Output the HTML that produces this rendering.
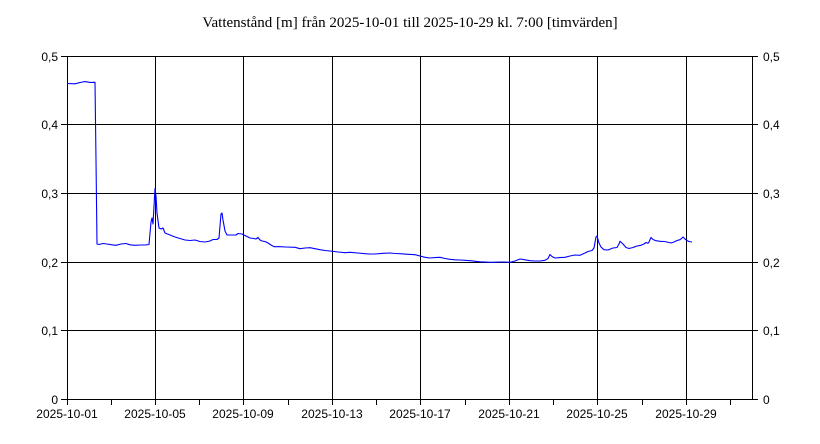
<!DOCTYPE html>
<html><head><meta charset="utf-8"><style>
html,body{margin:0;padding:0;background:#fff;}
</style></head><body>
<svg width="820" height="444" xmlns="http://www.w3.org/2000/svg" style="display:block">
<rect width="820" height="444" fill="#fff"/>
<text x="410" y="27" text-anchor="middle" font-family="Liberation Serif, serif" font-size="15" fill="#000">Vattenstånd [m] från 2025-10-01 till 2025-10-29 kl. 7:00 [timvärden]</text>
<g stroke="#000" stroke-width="1" shape-rendering="crispEdges" fill="none">
<rect x="67.5" y="56.5" width="685" height="343"/>
<line x1="67" y1="124.5" x2="752" y2="124.5"/>
<line x1="67" y1="193.5" x2="752" y2="193.5"/>
<line x1="67" y1="262.5" x2="752" y2="262.5"/>
<line x1="67" y1="330.5" x2="752" y2="330.5"/>
<line x1="61" y1="56.5" x2="67" y2="56.5"/><line x1="61" y1="124.5" x2="67" y2="124.5"/><line x1="61" y1="193.5" x2="67" y2="193.5"/><line x1="61" y1="262.5" x2="67" y2="262.5"/><line x1="61" y1="330.5" x2="67" y2="330.5"/><line x1="61" y1="399.5" x2="67" y2="399.5"/>
<line x1="752" y1="56.5" x2="758" y2="56.5"/><line x1="752" y1="124.5" x2="758" y2="124.5"/><line x1="752" y1="193.5" x2="758" y2="193.5"/><line x1="752" y1="262.5" x2="758" y2="262.5"/><line x1="752" y1="330.5" x2="758" y2="330.5"/><line x1="752" y1="399.5" x2="758" y2="399.5"/>
<line x1="155.5" y1="56" x2="155.5" y2="405"/>
<line x1="243.5" y1="56" x2="243.5" y2="405"/>
<line x1="332.5" y1="56" x2="332.5" y2="405"/>
<line x1="420.5" y1="56" x2="420.5" y2="405"/>
<line x1="509.5" y1="56" x2="509.5" y2="405"/>
<line x1="597.5" y1="56" x2="597.5" y2="405"/>
<line x1="686.5" y1="56" x2="686.5" y2="405"/>
<line x1="67.5" y1="399" x2="67.5" y2="405"/>
<line x1="111.5" y1="399" x2="111.5" y2="405"/><line x1="199.5" y1="399" x2="199.5" y2="405"/><line x1="288.5" y1="399" x2="288.5" y2="405"/><line x1="376.5" y1="399" x2="376.5" y2="405"/><line x1="465.5" y1="399" x2="465.5" y2="405"/><line x1="553.5" y1="399" x2="553.5" y2="405"/><line x1="642.5" y1="399" x2="642.5" y2="405"/><line x1="730.5" y1="399" x2="730.5" y2="405"/>
</g>
<g font-family="Liberation Sans, sans-serif" font-size="12" fill="#000">
<g text-anchor="end">
<text x="58" y="61">0,5</text><text x="58" y="129">0,4</text><text x="58" y="198">0,3</text><text x="58" y="267">0,2</text><text x="58" y="335">0,1</text><text x="58" y="404">0</text>
</g>
<text x="763" y="61">0,5</text><text x="763" y="129">0,4</text><text x="763" y="198">0,3</text><text x="763" y="267">0,2</text><text x="763" y="335">0,1</text><text x="763" y="404">0</text>
<g text-anchor="middle">
<text x="67" y="418">2025-10-01</text><text x="155" y="418">2025-10-05</text><text x="243" y="418">2025-10-09</text><text x="332" y="418">2025-10-13</text><text x="420" y="418">2025-10-17</text><text x="509" y="418">2025-10-21</text><text x="597" y="418">2025-10-25</text><text x="686" y="418">2025-10-29</text>
</g>
</g>
<polyline fill="none" stroke="#0000ff" stroke-width="1.1" stroke-linejoin="round" points="
67,83.5 75,83.8 80,82.5 85,81.6 90,82.4 95,82.3 96,160 97,244 99,244.5 103,243.5 107,244 112,244.8 116,245.3 121,244 126,243.5 130,244.8 135,245.3 140,245 145,245 149,244.5 150,233 151,222 152,218 153,224 154,206 155,188.5 156,196 157,213 159,228 161,229 163,228 165,233 170,235 175,237 180,238.5 185,240 190,240.5 195,240 200,241.5 205,242 210,241 213,239.5 217,239.5 219,238 220,226 221,214 222,213 223,220 225,231 227,235 232,235 236,235 238,233.5 242,234 246,236 250,238 254,238.5 256,239 258,237.5 260,240 262,241 265,241.5 268,243 271,245 274,246.7 280,246.7 286,247 295,247.3 300,248.7 305,248 310,247.7 315,248.7 320,249.7 325,250.5 330,251 338,252 345,252.7 350,252.3 358,253 365,253.7 370,254 375,254 383,253.3 390,253 395,253.5 400,253.7 408,254.3 415,254.7 420,256 425,257.3 430,258 435,257.6 440,257.3 445,258.5 450,259.3 455,259.8 460,260 465,260.3 470,260.7 480,261.8 490,262.3 500,262 505,262 510,262.3 515,261 520,259 525,259.8 530,260.7 535,261 540,261 545,260.3 548,258.5 550,254.5 552,256.5 555,258 560,257.6 565,257.3 570,256 575,255 580,255.3 585,253 588,251.5 592,250.5 594,248 596,237 597,236 599,243 601,247 604,249.7 608,250 613,248 617,247.5 619,244 620,241.3 623,244 626,247.5 629,248.5 633,247.5 637,246 641,245.3 644,244 646,242.5 648,243.3 649,242 651,237.5 653,239.5 656,240.7 660,241.3 664,241.5 667,242 671,243 674,242 677,240.5 680,239.7 682,238 683,237 685,239 687,240.5 689,241.5 692,242"/>
</svg>
</body></html>
